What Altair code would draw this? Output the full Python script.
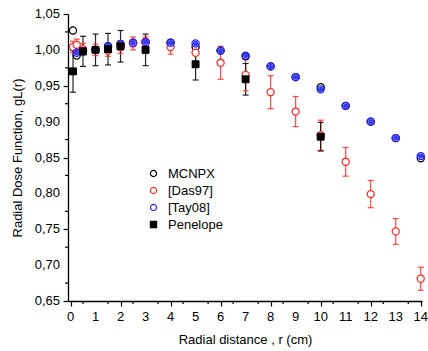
import altair as alt
import pandas as pd

# ---- data ----
r_mcnpx = [0.1, 0.25, 0.5, 1, 1.5, 2, 2.5, 3, 4, 5, 6, 7, 8, 9, 10, 11, 12, 13, 14]
g_mcnpx = [1.027, 0.992, 0.998, 1.000, 1.005, 1.008, 1.010, 1.011, 1.010, 1.004,
           0.999, 0.991, 0.977, 0.962, 0.948, 0.922, 0.900, 0.877, 0.849]

r_das = [0.1, 0.25, 0.5, 1, 1.5, 2, 2.5, 3, 4, 5, 6, 7, 8, 9, 10, 11, 12, 13, 14]
g_das = [1.004, 1.007, 1.001, 1.000, 0.999, 1.004, 1.009, 1.010, 1.004, 0.996,
         0.982, 0.965, 0.941, 0.914, 0.881, 0.844, 0.799, 0.747, 0.681]
e_das = [0.008, 0.008, 0.008, 0.008, 0.008, 0.009, 0.009, 0.008, 0.010, 0.012,
         0.023, 0.022, 0.023, 0.021, 0.021, 0.020, 0.019, 0.018, 0.016]

r_tay = [0.25, 0.5, 1, 1.5, 2, 2.5, 3, 4, 5, 6, 7, 8, 9, 10, 11, 12, 13, 14]
g_tay = [0.996, 0.998, 1.000, 1.005, 1.008, 1.010, 1.011, 1.010, 1.009, 0.999,
         0.992, 0.977, 0.962, 0.945, 0.922, 0.900, 0.877, 0.852]

r_pen = [0.1, 0.5, 1, 1.5, 2, 3, 5, 7, 10]
g_pen = [0.970, 0.998, 1.000, 1.001, 1.005, 1.000, 0.980, 0.959, 0.879]
e_pen = [0.029, 0.021, 0.022, 0.022, 0.022, 0.022, 0.022, 0.022, 0.020]

series = ["MCNPX", "[Das97]", "[Tay08]", "Penelope"]
colors = ["black", "#ff2a2a", "#2424ff", "black"]
shapes = ["circle", "circle", "circle", "square"]
fills = ["white", "white", "transparent", "black"]

x_major = list(range(0, 15))
x_minor = [i + 0.5 for i in range(0, 14)]
y_major = [0.65, 0.70, 0.75, 0.80, 0.85, 0.90, 0.95, 1.00, 1.05]
y_labels = ["0,65", "0,70", "0,75", "0,80", "0,85", "0,90", "0,95", "1,00", "1,05"]
y_minor = [0.675, 0.725, 0.775, 0.825, 0.875, 0.925, 0.975, 1.025]

# ---- tables ----
pts_a = pd.concat([
    pd.DataFrame({"r": r_mcnpx, "g": g_mcnpx, "s": "MCNPX"}),
    pd.DataFrame({"r": r_das, "g": g_das, "s": "[Das97]"}),
    pd.DataFrame({"r": r_tay, "g": g_tay, "s": "[Tay08]"}),
], ignore_index=True)
pts_tay = pd.DataFrame({"r": r_tay, "g": g_tay, "s": "[Tay08]"})
pts_pen = pd.DataFrame({"r": r_pen, "g": g_pen, "s": "Penelope"})

err = pd.concat([
    pd.DataFrame({"r": r_das, "lo": [g - e for g, e in zip(g_das, e_das)],
                  "hi": [g + e for g, e in zip(g_das, e_das)], "s": "[Das97]"}),
    pd.DataFrame({"r": r_pen, "lo": [g - e for g, e in zip(g_pen, e_pen)],
                  "hi": [g + e for g, e in zip(g_pen, e_pen)], "s": "Penelope"}),
], ignore_index=True)

FONT = "Liberation Sans"
W, H = 354, 287

xscale = alt.Scale(domain=[-0.1, 14.05], nice=False, zero=False)
yscale = alt.Scale(domain=[0.65, 1.05], nice=False, zero=False)

x_axis = alt.Axis(
    title="Radial distance , r (cm)", values=x_major, grid=False, labels=False,
    tickSize=5, titlePadding=27,
)
y_axis = alt.Axis(
    title="Radial Dose Function, gL(r)", values=y_major, grid=False, labels=False,
    tickSize=5, titlePadding=38,
)

color_enc = alt.Color("s:N", scale=alt.Scale(domain=series, range=colors),
                      legend=alt.Legend(title=None, orient="none", legendX=79, legendY=153,
                                        labelFontSize=13, labelFont=FONT, symbolSize=38,
                                        symbolStrokeWidth=1.2, rowPadding=3, labelOffset=8,
                                        labelColor="black"))
shape_enc = alt.Shape("s:N", scale=alt.Scale(domain=series, range=shapes))
fill_enc = alt.Fill("s:N", scale=alt.Scale(domain=series, range=fills))

bar_color = alt.condition(alt.datum.s == "Penelope", alt.value("black"), alt.value("#ff2a2a"))

bars = alt.Chart(err).mark_rule(strokeWidth=1.2, opacity=0.85).encode(
    x=alt.X("r:Q", scale=xscale, axis=x_axis),
    y=alt.Y("lo:Q", scale=yscale, axis=y_axis),
    y2="hi:Q",
    color=bar_color,
)
caps_lo = alt.Chart(err).mark_tick(orient="horizontal", size=6, thickness=1.2, opacity=0.85).encode(
    x="r:Q", y="lo:Q", color=bar_color,
)
caps_hi = alt.Chart(err).mark_tick(orient="horizontal", size=6, thickness=1.2, opacity=0.85).encode(
    x="r:Q", y="hi:Q", color=bar_color,
)

# minor axis ticks and tick labels (placed through the scales)
minor_x = alt.Chart(pd.DataFrame({"r": x_minor})).mark_rule(color="black", strokeWidth=1.2).encode(
    x="r:Q", y=alt.value(H), y2=alt.value(H + 3),
)
minor_y = alt.Chart(pd.DataFrame({"g": y_minor})).mark_rule(color="black", strokeWidth=1.2).encode(
    y="g:Q", x=alt.value(-3), x2=alt.value(0),
)
xlab = alt.Chart(pd.DataFrame({"r": x_major, "t": [str(v) for v in x_major]})).mark_text(
    font=FONT, fontSize=13, color="black", align="center", baseline="alphabetic",
).encode(x="r:Q", y=alt.value(H + 20), text="t:N")
ylab = alt.Chart(pd.DataFrame({"g": y_major, "t": y_labels})).mark_text(
    font=FONT, fontSize=13, color="black", align="right", baseline="middle",
).encode(y="g:Q", x=alt.value(-8), text="t:N")

points_a = alt.Chart(pts_a).mark_point(size=50, strokeWidth=1.3, opacity=1).encode(
    x="r:Q", y="g:Q", color=color_enc, shape=shape_enc, fill=fill_enc,
)
tay_dots = alt.Chart(pts_tay).mark_circle(size=28, color="#3c3cf0", opacity=1).encode(
    x="r:Q", y="g:Q",
)
points_pen = alt.Chart(pts_pen).mark_point(size=48, strokeWidth=1, opacity=1).encode(
    x="r:Q", y="g:Q", color=color_enc, shape=shape_enc, fill=fill_enc,
)

chart = alt.layer(bars, caps_lo, caps_hi, minor_x, minor_y, xlab, ylab,
                  points_a, tay_dots, points_pen).properties(
    width=W, height=H,
    padding={"left": 68, "top": 14, "right": 6, "bottom": 50},
    autosize=alt.AutoSizeParams(type="none"),
    background="white",
).configure_view(stroke=None).configure_axis(
    domainColor="black", domainWidth=1.3, tickColor="black", tickWidth=1.2,
    titleFont=FONT, titleFontSize=13, titleFontWeight="normal", titleColor="black",
)

chart.save("out.html", embed_options={"renderer": "svg", "actions": False})
